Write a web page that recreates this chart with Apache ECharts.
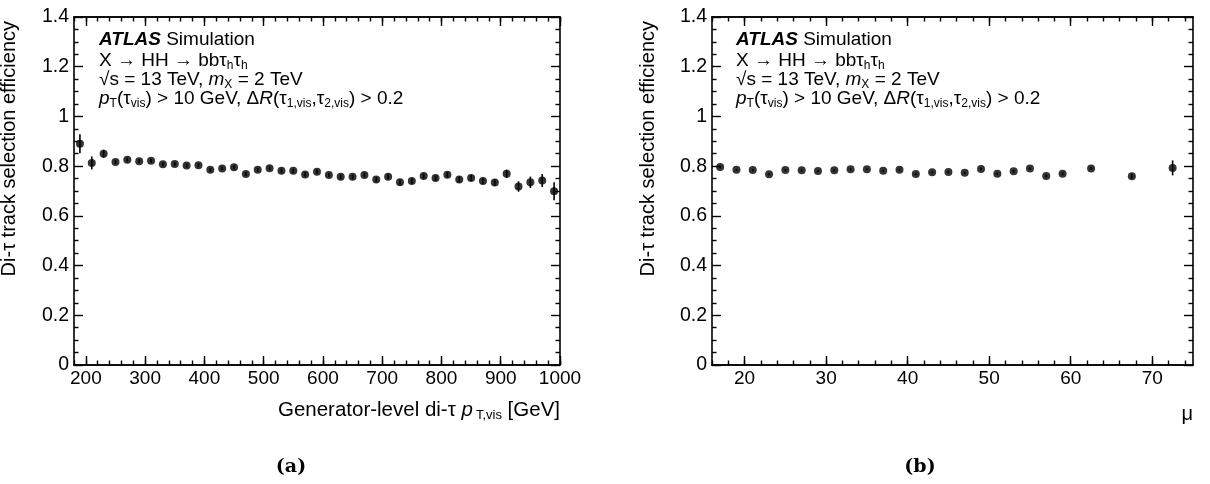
<!DOCTYPE html>
<html>
<head>
<meta charset="utf-8">
<script src="https://cdn.jsdelivr.net/npm/echarts@6/dist/echarts.min.js"></script>
<style>
html, body { margin: 0; padding: 0; background: #fff; }
#chart { width: 1210px; height: 484px; }
</style>
</head>
<body>
<div id="chart"></div>
<script>
// (a) efficiency vs generator-level di-tau visible pT
var ptBins = [190, 210, 230, 250, 270, 290, 310, 330, 350, 370, 390, 410, 430, 450, 470, 490, 510, 530, 550, 570,
              590, 610, 630, 650, 670, 690, 710, 730, 750, 770, 790, 810, 830, 850, 870, 890, 910, 930, 950, 970, 990];
var effA = [0.890, 0.813, 0.850, 0.817, 0.826, 0.820, 0.822, 0.808, 0.809, 0.803,
            0.804, 0.785, 0.791, 0.796, 0.768, 0.785, 0.792, 0.781, 0.781, 0.766,
            0.777, 0.764, 0.757, 0.757, 0.764, 0.746, 0.757, 0.735, 0.740, 0.760,
            0.752, 0.765, 0.746, 0.752, 0.740, 0.734, 0.769, 0.718, 0.735, 0.742, 0.699];
var errA = [0.038, 0.026, 0.016, 0.008, 0.008, 0.008, 0.008, 0.008, 0.008, 0.008,
            0.008, 0.008, 0.008, 0.008, 0.008, 0.008, 0.009, 0.009, 0.009, 0.009,
            0.009, 0.009, 0.010, 0.010, 0.010, 0.010, 0.010, 0.010, 0.011, 0.011,
            0.011, 0.011, 0.012, 0.012, 0.012, 0.013, 0.017, 0.021, 0.023, 0.026, 0.036];

// (b) efficiency vs mu
var muBins = [17, 19, 21, 23, 25, 27, 29, 31, 33, 35, 37, 39, 41, 43, 45, 47, 49, 51, 53, 55, 57, 59, 62.5, 67.5, 72.5];
var effB = [0.797, 0.785, 0.784, 0.767, 0.784, 0.783, 0.780, 0.783, 0.787, 0.787, 0.781, 0.785, 0.768,
            0.775, 0.776, 0.773, 0.789, 0.769, 0.779, 0.791, 0.760, 0.769, 0.791, 0.759, 0.793];
var errB = [0.005, 0.004, 0.004, 0.004, 0.004, 0.004, 0.004, 0.004, 0.004, 0.004, 0.004, 0.004, 0.004,
            0.004, 0.004, 0.004, 0.005, 0.005, 0.005, 0.005, 0.006, 0.006, 0.006, 0.010, 0.030];

// tick labels
var xMajorA = [200, 300, 400, 500, 600, 700, 800, 900, 1000];
var xMinorA = [180, 200, 220, 240, 260, 280, 300, 320, 340, 360, 380, 400, 420, 440, 460, 480, 500, 520, 540, 560,
               580, 600, 620, 640, 660, 680, 700, 720, 740, 760, 780, 800, 820, 840, 860, 880, 900, 920, 940, 960, 980, 1000];
var xMajorB = [20, 30, 40, 50, 60, 70];
var xMinorB = [16, 18, 20, 22, 24, 26, 28, 30, 32, 34, 36, 38, 40, 42, 44, 46, 48, 50, 52, 54, 56, 58, 60,
               62, 64, 66, 68, 70, 72, 74];

var FONT = 'Liberation Sans';
var chart = echarts.init(document.getElementById('chart'));

function xAx(grid, pos, min, max, ticks, len, labels) {
    return {
        type: 'value', gridIndex: grid, position: pos, min: min, max: max,
        axisLine: { show: true, onZero: false, lineStyle: { color: '#000', width: 1.6 } },
        axisTick: { show: true, inside: true, length: len, customValues: ticks, lineStyle: { color: '#000', width: 1.4 } },
        axisLabel: { show: labels, customValues: ticks, margin: 4, color: '#000', fontFamily: FONT, fontSize: 19,
                     showMinLabel: true, showMaxLabel: true,
                     formatter: function (v) { return String(v); } },
        splitLine: { show: false }, minorTick: { show: false }
    };
}
function yAx(grid, pos, labels) {
    return {
        type: 'value', gridIndex: grid, position: pos, min: 0, max: 1.4, interval: 0.2,
        axisLine: { show: true, onZero: false, lineStyle: { color: '#000', width: 1.6 } },
        axisTick: { show: true, inside: true, length: 9, lineStyle: { color: '#000', width: 1.4 } },
        minorTick: { show: true, splitNumber: 4, length: 4.5, lineStyle: { color: '#000', width: 1.4 } },
        axisLabel: { show: labels, margin: 5, color: '#000', fontFamily: FONT, fontSize: 19.5 },
        splitLine: { show: false }
    };
}
function points(xi, yi, xs, ys) {
    return {
        type: 'scatter', xAxisIndex: xi, yAxisIndex: yi, symbol: 'circle', symbolSize: 8,
        itemStyle: { color: '#000' }, z: 3, silent: true,
        data: xs.map(function (x, k) { return [x, ys[k]]; })
    };
}
function errBars(xi, yi, xs, ys, es) {
    return {
        type: 'custom', xAxisIndex: xi, yAxisIndex: yi, z: 2, silent: true,
        data: xs.map(function (x, k) { return [x, ys[k] - es[k], ys[k] + es[k]]; }),
        encode: { x: 0, y: [1, 2] },
        renderItem: function (params, api) {
            var lo = api.coord([api.value(0), api.value(1)]);
            var hi = api.coord([api.value(0), api.value(2)]);
            return { type: 'line', shape: { x1: lo[0], y1: lo[1], x2: hi[0], y2: hi[1] },
                     style: { stroke: '#000', lineWidth: 1.6 } };
        }
    };
}

var rich = {
    b: { fontFamily: FONT, fontSize: 19, fontWeight: 'bold', fontStyle: 'italic', lineHeight: 22 },
    i: { fontFamily: FONT, fontSize: 19, fontStyle: 'italic', lineHeight: 22 },
    s: { fontFamily: FONT, fontSize: 12, lineHeight: 2, verticalAlign: 'bottom' },
    ti: { fontFamily: FONT, fontSize: 20.5, fontStyle: 'italic', lineHeight: 24 },
    ts: { fontFamily: FONT, fontSize: 13, lineHeight: 2, verticalAlign: 'bottom', padding: [0, 0, 0, 3] }
};
function label(x, y, txt, extra) {
    var st = { text: txt, fontFamily: FONT, fontSize: 19, lineHeight: 22, fill: '#000',
               align: 'left', verticalAlign: 'middle', rich: rich };
    for (var k in extra) st[k] = extra[k];
    return { type: 'text', x: x, y: y, style: st, z: 10 };
}
var infoLines = [
    '{b|ATLAS} Simulation',
    'X → HH → bbτ{s|h}τ{s|h}',
    '√s = 13 TeV, {i|m}{s|X} = 2 TeV',
    '{i|p}{s|T}(τ{s|vis}) > 10 GeV, Δ{i|R}(τ{s|1,vis},τ{s|2,vis}) > 0.2'
];
var lineY = [40, 61, 80, 99];
var graphics = [];
[99, 736].forEach(function (x0) {
    infoLines.forEach(function (t, k) { graphics.push(label(x0, lineY[k], t, {})); });
});
[9, 648].forEach(function (x0) {
    var g = label(x0, 21, 'Di-τ track selection efficiency', { align: 'right', fontSize: 20 });
    g.rotation = Math.PI / 2;
    graphics.push(g);
});
graphics.push(label(560, 410, 'Generator-level di-τ {ti|p}{ts|T,vis} [GeV]',
                    { align: 'right', fontSize: 20.5, lineHeight: 24 }));
graphics.push(label(1193, 414, 'μ', { align: 'right', fontSize: 20 }));
graphics.push(label(291, 467, '(a)', { align: 'center', fontFamily: 'DejaVu Serif', fontWeight: 'bold', fontSize: 19 }));
graphics.push(label(920, 467, '(b)', { align: 'center', fontFamily: 'DejaVu Serif', fontWeight: 'bold', fontSize: 19 }));

chart.setOption({
    animation: false,
    backgroundColor: '#fff',
    grid: [
        { left: 74, top: 17, width: 486, height: 348, containLabel: false, outerBoundsMode: 'none' },
        { left: 712, top: 17, width: 481, height: 348, containLabel: false, outerBoundsMode: 'none' }
    ],
    xAxis: [
        xAx(0, 'bottom', 180, 1000, xMajorA, 9, true),
        xAx(0, 'bottom', 180, 1000, xMinorA, 4.5, false),
        xAx(0, 'top', 180, 1000, xMajorA, 9, false),
        xAx(0, 'top', 180, 1000, xMinorA, 4.5, false),
        xAx(1, 'bottom', 16, 75, xMajorB, 9, true),
        xAx(1, 'bottom', 16, 75, xMinorB, 4.5, false),
        xAx(1, 'top', 16, 75, xMajorB, 9, false),
        xAx(1, 'top', 16, 75, xMinorB, 4.5, false)
    ],
    yAxis: [
        yAx(0, 'left', true), yAx(0, 'right', false),
        yAx(1, 'left', true), yAx(1, 'right', false)
    ],
    series: [
        errBars(0, 0, ptBins, effA, errA),
        points(0, 0, ptBins, effA),
        errBars(4, 2, muBins, effB, errB),
        points(4, 2, muBins, effB)
    ],
    graphic: graphics
});
</script>
</body>
</html>
